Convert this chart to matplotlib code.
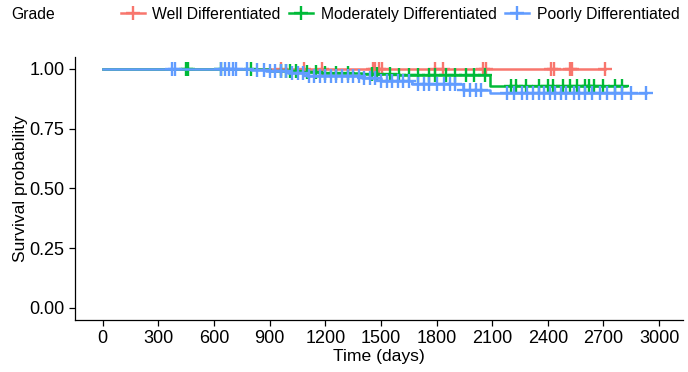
import numpy as np
import matplotlib
matplotlib.use("Agg")
import matplotlib.pyplot as plt
from matplotlib.lines import Line2D

plt.rcParams['font.family'] = ['Liberation Sans', 'DejaVu Sans']

# Kaplan-Meier step curves (time in days, survival probability)
well_t = [0, 2710]
well_s = [1.0, 1.0]
well_cens = [962, 1087, 1180, 1455, 1470, 1490, 1505, 1793, 1832, 2049, 2065,
             2418, 2435, 2522, 2533, 2710]

moderate_t = [0, 900, 1050, 1180, 1400, 1600, 2090, 2820]
moderate_s = [1.0, 0.993, 0.988, 0.983, 0.979, 0.976, 0.927, 0.927]
moderate_cens = [446, 462, 640, 800, 960, 990, 1010, 1040, 1100, 1150, 1200, 1260,
                 1320, 1450, 1480, 1550, 1600, 1650, 1700, 1760, 1790, 1850, 1900,
                 1960, 2000, 2060, 2200, 2230, 2280, 2350, 2400, 2430, 2480, 2520,
                 2560, 2600, 2620, 2650, 2700, 2760, 2800]

poorly_t = [0, 800, 880, 1000, 1100, 1400, 1500, 1670, 1940, 2090, 2930]
poorly_s = [1.0, 0.995, 0.99, 0.983, 0.972, 0.962, 0.948, 0.935, 0.91, 0.899, 0.899]
poorly_cens = [375, 390, 640, 660, 680, 700, 720, 780, 830, 870, 900, 930, 960, 990,
               1020, 1050, 1080, 1110, 1140, 1170, 1200, 1230, 1260, 1290, 1320, 1350,
               1380, 1410, 1440, 1470, 1500, 1530, 1560, 1590, 1620, 1650, 1700, 1730,
               1760, 1800, 1840, 1870, 1900, 1950, 1980, 2010, 2040, 2180, 2220, 2260,
               2290, 2320, 2350, 2380, 2410, 2440, 2470, 2500, 2540, 2570, 2600, 2640,
               2680, 2720, 2760, 2800, 2850, 2930]

groups = ["Well Differentiated", "Moderately Differentiated", "Poorly Differentiated"]
colors = ["#F8766D", "#00BA38", "#619CFF"]
x_ticks = [0, 300, 600, 900, 1200, 1500, 1800, 2100, 2400, 2700, 3000]
y_ticks = [0.0, 0.25, 0.5, 0.75, 1.0]

fig = plt.figure(figsize=(6.88, 3.72), dpi=100)
ax = fig.add_axes([0.109, 0.140, 0.884, 0.707])

curves = [(well_t, well_s, well_cens),
          (moderate_t, moderate_s, moderate_cens),
          (poorly_t, poorly_s, poorly_cens)]

for (t, s, cens), col in zip(curves, colors):
    ax.step(t, s, where='post', color=col, lw=1.8)
    # censor marks sit on the step curve
    idx = np.searchsorted(t, cens, side='right') - 1
    ax.plot(cens, np.array(s)[idx], ls='none', marker='+', ms=10, mew=1.7, color=col)

ax.set_xlim(-150, 3130)
ax.set_ylim(-0.05, 1.05)
ax.set_xticks(x_ticks)
ax.set_yticks(y_ticks)
ax.set_yticklabels(["%.2f" % v for v in y_ticks])
ax.tick_params(labelsize=13, length=4, width=0.9, colors='black')
for side in ['top', 'right']:
    ax.spines[side].set_visible(False)
for side in ['left', 'bottom']:
    ax.spines[side].set_linewidth(0.9)
ax.set_xlabel("Time (days)", fontsize=12.6, labelpad=1)
ax.set_ylabel("Survival probability", fontsize=12.6, labelpad=1)

fig.text(0.017, 0.962, "Grade", fontsize=11.3, va='center')
handles = [Line2D([], [], color=c, lw=1.8, marker='+', ms=10, mew=1.7) for c in colors]
fig.legend(handles, groups, loc='center left', bbox_to_anchor=(0.176, 0.962),
           ncol=3, frameon=False, fontsize=11.3, handlelength=1.5,
           handletextpad=0.5, columnspacing=0.55, borderpad=0, borderaxespad=0)

fig.savefig("out.png", dpi=100)
